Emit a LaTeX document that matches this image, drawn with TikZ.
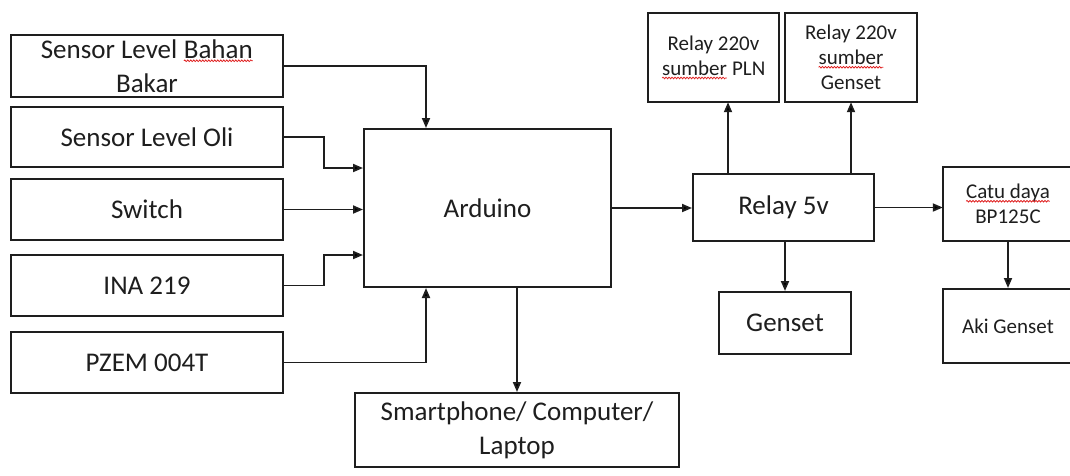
\documentclass[tikz,border=0pt]{standalone}
\usepackage{fontspec}
\setmainfont{Carlito}
\usetikzlibrary{arrows.meta, positioning, calc, decorations.pathmorphing}
\definecolor{cink}{HTML}{1E1E1E}
\definecolor{cwave}{HTML}{E02424}
\tikzset{
  every picture/.style={line width=2pt},
  box/.style={draw=cink, text=cink, align=center, inner sep=0pt, font=\fontsize{27}{34}\selectfont},
  smallbox/.style={box, font=\fontsize{21}{25}\selectfont},
  arrow/.style={-{Triangle[length=10pt, width=8pt]}, draw=cink, line width=1.8pt},
  wavytext/.style={draw=none, fill=none, inner sep=0pt, outer sep=0pt, minimum width=0pt, minimum height=0pt},
  wavyline/.style={draw=cwave, line width=0.8pt, decorate, decoration={snake, amplitude=0.8pt, segment length=3pt}},
}
% red spell-check squiggle under a word
\newcommand{\wavy}[1]{\tikz[baseline=(wv.base)]{\node[wavytext] (wv) {#1}; \draw[wavyline] ([yshift=-2.5pt]wv.base west) -- ([yshift=-2.5pt]wv.base east);}}

\begin{document}
\begin{tikzpicture}[x=1pt, y=-1pt]
  \useasboundingbox (0,0) rectangle (1070,475);
  % inputs
  \node[box, minimum width=272pt, minimum height=62pt] (bbm) at (147,66) {Sensor Level \wavy{Bahan}\\Bakar};
  \node[box, minimum width=272pt, minimum height=60pt] (oli) at (147,137) {Sensor Level Oli};
  \node[box, minimum width=272pt, minimum height=61pt] (sw) at (147,209.5) {Switch};
  \node[box, minimum width=272pt, minimum height=61pt] (ina) at (147,285.5) {INA 219};
  \node[box, minimum width=272pt, minimum height=61pt] (pzem) at (147,362.5) {PZEM 004T};
  \node[box, minimum width=247pt, minimum height=158pt] (ard) at (487.5,208) {Arduino};
  \node[box, minimum width=324pt, minimum height=74pt] (hp) at (517,430) {Smartphone/ Computer/\\Laptop};
  % relay side
  \node[box, minimum width=181pt, minimum height=67pt] (r5) at (783.5,207.5) {Relay 5v};
  \node[smallbox, minimum width=131pt, minimum height=89pt] (pln) at (713.5,57.5) {Relay 220v\\\wavy{sumber} PLN};
  \node[smallbox, minimum width=132pt, minimum height=89pt] (rgs) at (851,57.5) {Relay 220v\\\wavy{sumber}\\Genset};
  \node[smallbox, minimum width=130pt, minimum height=74pt] (catu) at (1008,204) {\wavy{Catu daya}\\BP125C};
  \node[smallbox, minimum width=130pt, minimum height=74pt] (aki) at (1008,326) {Aki Genset};
  \node[box, minimum width=132pt, minimum height=62pt] (gen) at (785,323) {Genset};
  % connectors
  \draw[arrow] (bbm.east) -| ($(ard.north west)+(63,0)$);
  \draw[arrow] (oli.east) -- ++(40,0) |- ($(ard.west)+(0,-40)$);
  \draw[arrow] (sw.east) -- (sw.east -| ard.west);
  \draw[arrow] (ina.east) -- ++(40,0) |- ($(ard.west)+(0,47)$);
  \draw[arrow] (pzem.east) -| ($(ard.south west)+(63,0)$);
  \draw[arrow] (ard.south -| hp.north) -- (hp.north);
  \draw[arrow] (ard.east) -- (ard.east -| r5.west);
  \draw[arrow] ($(r5.north)+(-55.5,0)$) coordinate (rp) -- (rp |- pln.south);
  \draw[arrow] (r5.north -| rgs.south) -- (rgs.south);
  \draw[arrow] (r5.east) -- (r5.east -| catu.west);
  \draw[arrow] (r5.south -| gen.north) -- (gen.north);
  \draw[arrow] (catu.south) -- (aki.north);
\end{tikzpicture}
\end{document}
